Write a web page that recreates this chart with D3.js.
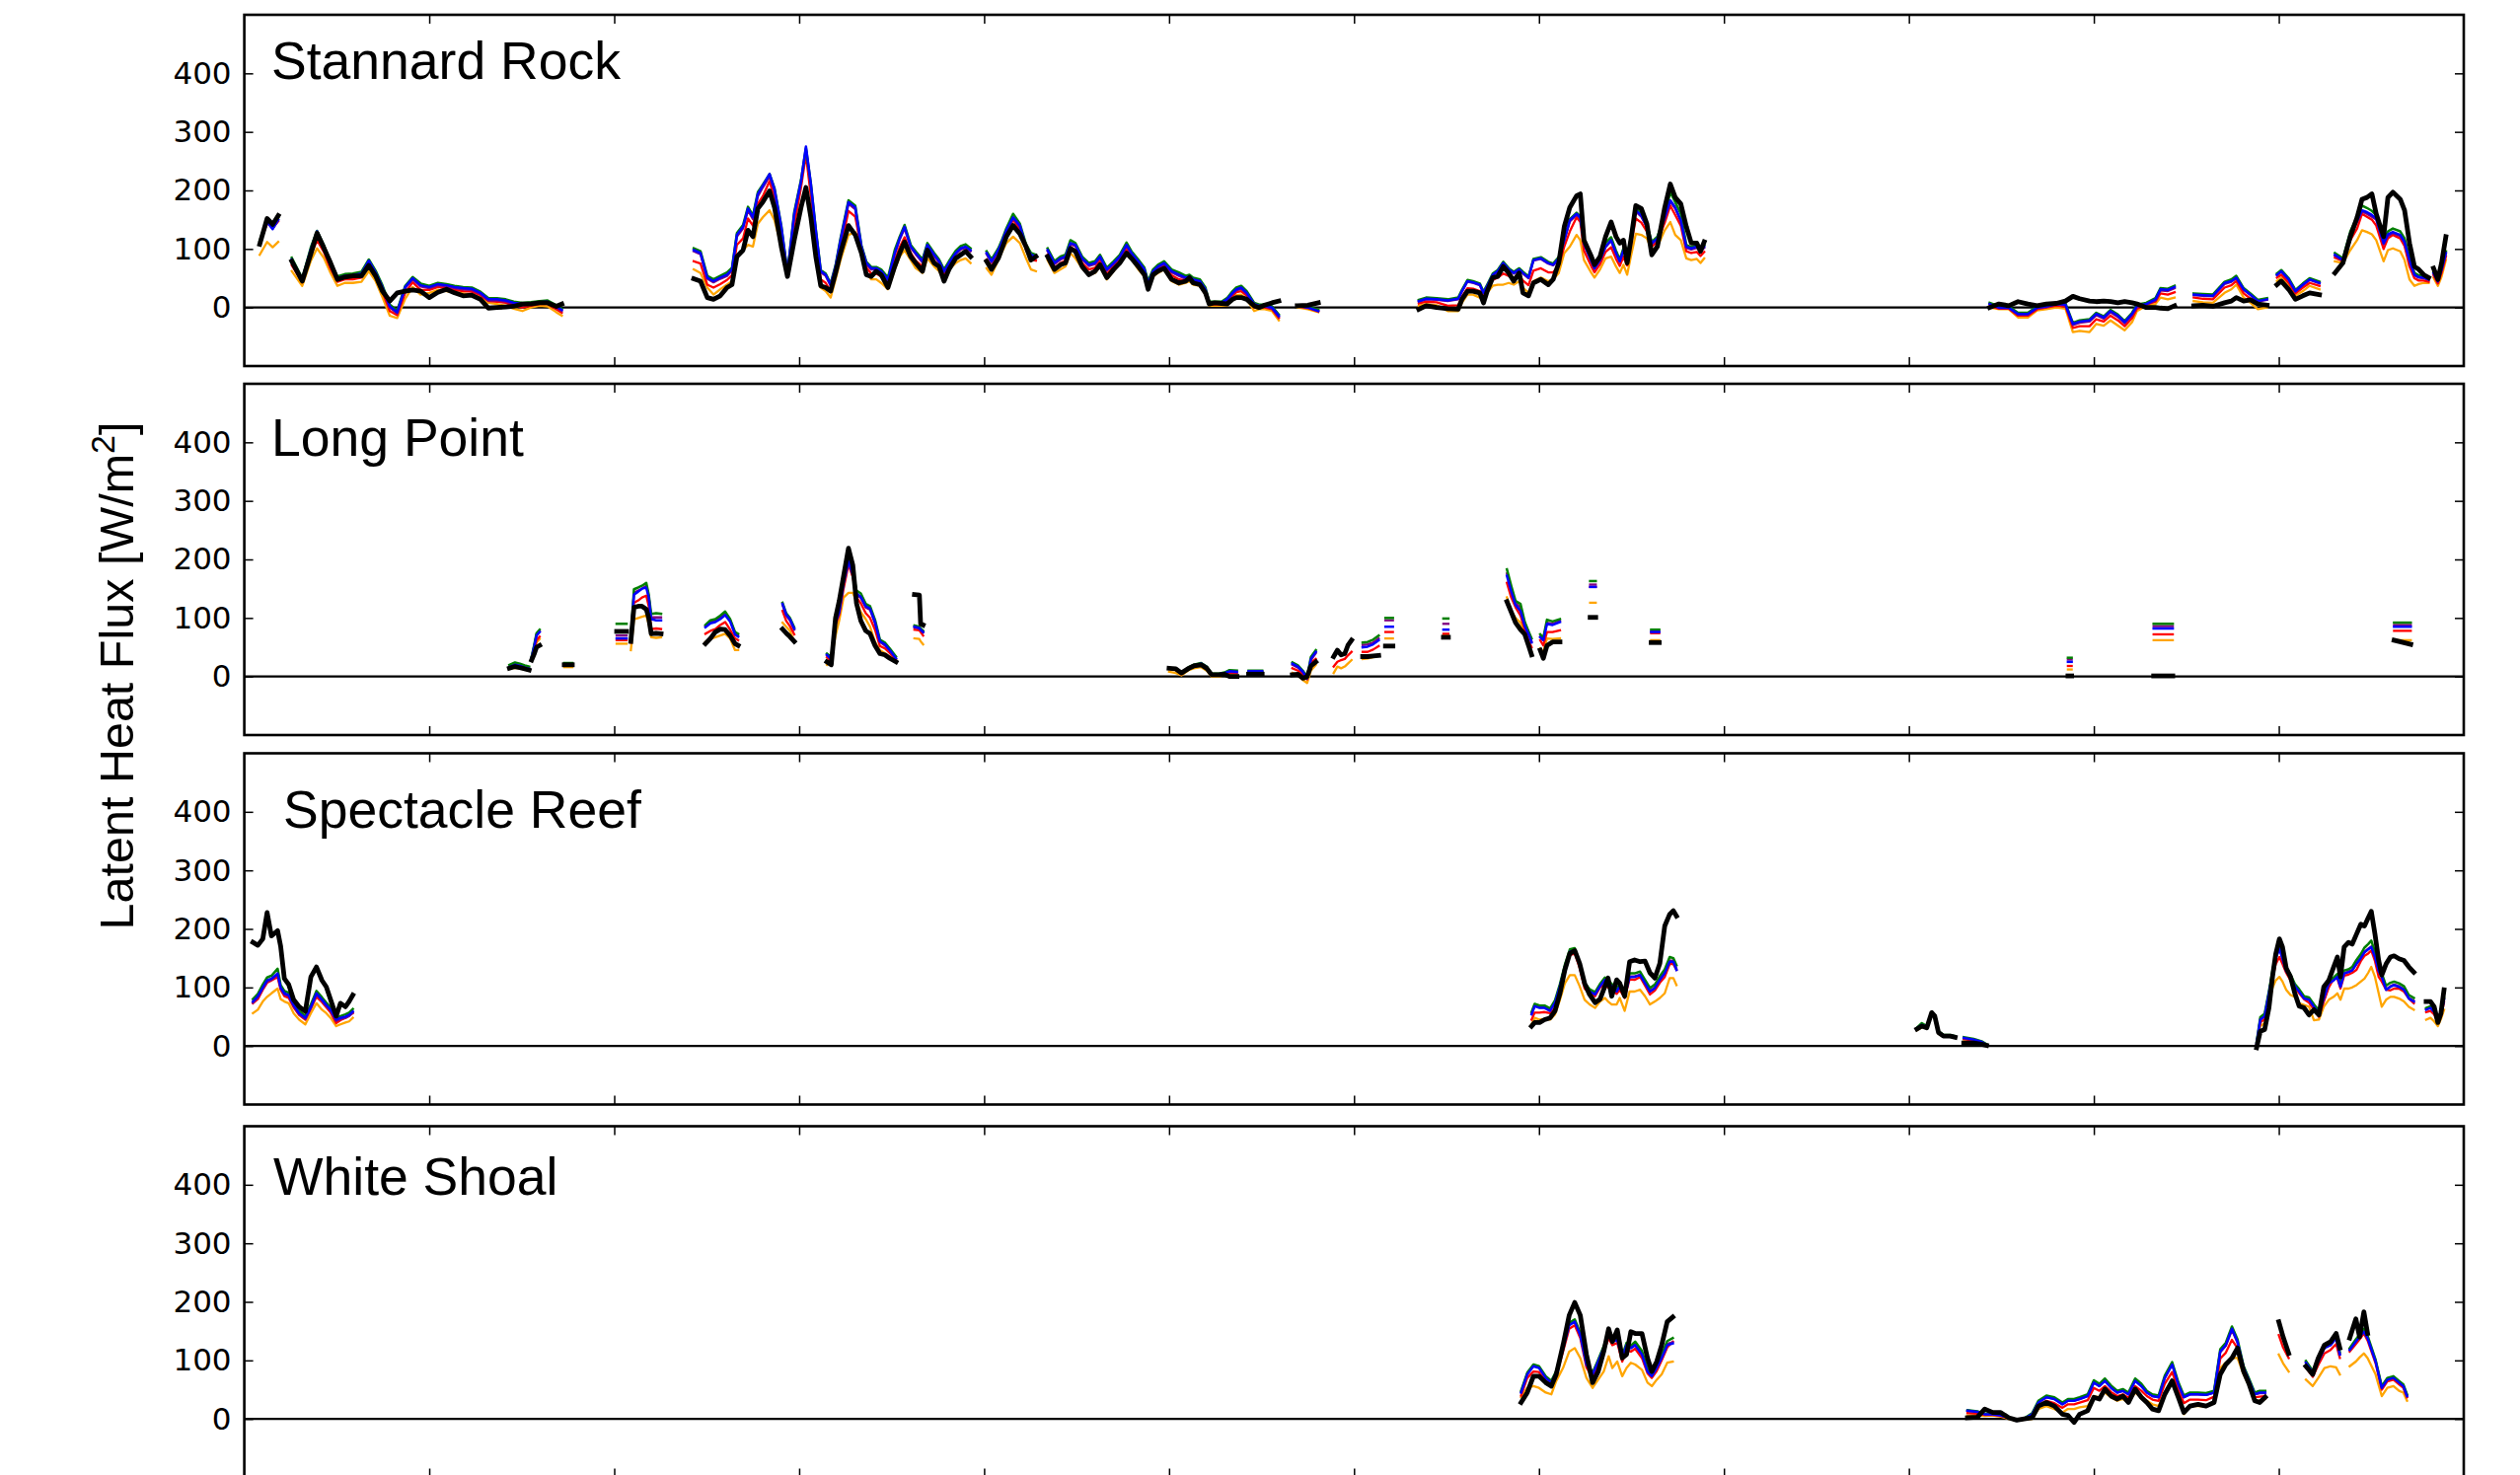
<!DOCTYPE html>
<html>
<head>
<meta charset="utf-8">
<script src="https://cdn.jsdelivr.net/npm/d3@7"></script>
<style>
  body { margin: 0; background: #fff; }
</style>
</head>
<body>
<svg id="chart" width="2554" height="1495"></svg>
<script>
// ---------------------------------------------------------------
// Latent heat flux at four Great Lakes lighthouse stations.
// x = day of the year (0-360), y = flux in W/m^2.
// Each station is stored as a list of record segments (gaps between
// segments are missing data). Six estimates per station.
// ---------------------------------------------------------------

const stationNames = ["Stannard Rock", "Long Point", "Spectacle Reef", "White Shoal"];
const seriesNames  = ["orange", "red", "purple", "green", "blue", "black"];
const yTickValues  = [0, 100, 200, 300, 400];
const xTickValues  = [30, 60, 90, 120, 150, 180, 210, 240, 270, 300, 330];

// ---------------- Stannard Rock ----------------
const srDays = [
  [2.5,3.7,4.6,5.5],
  [7.7,9.4,10.8,11.8,12.9,14.0,15.1,16.3,17.6,19.0,20.2,21.3,22.4,23.6,24.8,26.1,27.3,28.6,30.0,31.4,32.8,34.1,35.5,36.9,38.3,39.6,41.0,42.4,43.7,45.1,46.5,47.9,49.2,50.6,51.5],
  [72.9,74.0,75.1,76.1,77.2,78.3,79.1,79.9,80.9,81.7,82.5,83.3,84.1,85.2,86.0,87.1,88.1,89.2,90.3,91.1,91.9,92.7,93.5,94.3,95.1,95.9,96.7,98.0,99.1,100.1,100.9,101.7,102.5,103.3,104.4,105.5,106.3,107.1,108.1,108.9,110.0,110.8,111.9,112.7,113.5,114.3,115.4,116.2,117.0,117.8],
  [120.4,121.2,122.3,122.8,123.6,124.7,125.8,126.8,127.6,128.4],
  [130.3,131.4,132.4,133.2,134.0,134.8,135.9,137.0,138.0,138.8,139.9,141.0,142.0,143.1,143.9,145.0,146.0,146.6,147.4,148.2,149.2,150.4,151.6,152.7,153.3,153.9,155.0,155.9,156.5,157.4,158.5,159.4,160.3,160.9,161.7,162.6,163.8,164.6,165.5,166.7,167.8],
  [170.8,172.5,174.2],
  [190.5,191.7,193.4,195.2,196.9,197.5,198.4,199.3,200.4,201.0,201.6,202.5,203.3,204.2,205.1,205.9,206.8,207.4,208.3,209.1,210.3,211.5,212.3,213.2,214.1,215.0,216.1,216.7,217.3,218.5,219.0,219.9,220.8,221.7,222.5,223.1,223.7,224.3,224.9,225.7,226.6,227.5,228.3,229.2,230.4,231.3,232.1,233.0,233.9,234.7,235.6,236.2,236.8],
  [283.1,284.6,286.2,287.7,289.3,290.8,292.3,293.9,295.4,296.6,297.7,299.3,300.4,301.6,302.7,303.9,305.0,306.2,307.0,308.5,310.0,310.8,312.0,313.1],
  [316.2,317.7,319.3,321.2,322.3,323.1,324.3,325.4,326.6,328.1],
  [329.7,330.4,331.6,332.7,333.9,335.0,336.6],
  [339.1,340.4,341.6,342.7,343.5,344.3,345.1,345.8,347.0,347.7,348.5,349.7,350.4,351.2,352.0,352.7,353.5,354.3],
  [355.1,355.8,356.4,357.1]
];
const srBlack = [
  [108,152,142,157],
  [79,45,92,127,102,76,48,52,54,54,72,54,28,11,25,28,30,28,17,26,31,25,20,21,14,-1,0,1,2,6,6,8,8,2,6],
  [49,45,17,14,20,34,39,87,98,132,121,169,180,199,171,104,53,115,171,205,154,87,37,34,28,59,93,140,124,93,56,53,62,56,34,70,93,112,87,76,62,98,76,70,45,65,84,90,96,87],
  [79,65,84,98,121,140,126,104,81,87],
  [87,65,73,76,101,96,70,56,62,73,51,65,76,93,84,70,56,31,56,62,67,48,42,45,51,42,39,25,6,8,7,6,14,17,17,14,3,0,4,8,11],
  [3,4,8],
  [-3,3,0,-2,-3,14,28,28,25,8,28,51,53,70,59,45,59,25,20,42,48,39,48,76,138,171,191,194,115,87,73,87,121,146,121,110,115,76,115,174,169,143,90,104,171,211,188,177,138,110,110,96,112],
  [0,6,3,10,6,3,6,7,11,19,15,11,10,11,10,8,10,8,6,0,0,-1,-2,3],
  [3,4,2,8,11,17,11,13,6,4],
  [39,45,31,14,20,25,22],
  [59,76,121,154,185,188,194,160,121,188,197,185,166,110,70,65,56,51],
  [67,48,76,121]
];
const srBlue = [
  [110,146,134,150],
  [82,48,100,130,105,72,50,54,55,58,80,60,35,2,-8,35,50,38,35,40,38,35,33,32,25,14,14,12,8,6,7,9,10,2,-4],
  [98,93,51,45,51,56,65,124,138,169,154,194,208,228,202,138,59,160,216,275,211,132,62,56,39,70,115,180,171,104,76,67,67,62,48,93,118,138,104,93,79,107,90,79,62,76,93,101,104,98],
  [93,79,98,110,132,154,140,104,90,87],
  [98,76,84,87,110,107,84,73,76,87,65,76,87,107,93,79,65,42,62,70,76,62,56,51,53,48,45,31,8,8,8,14,25,31,34,25,6,3,3,0,-14],
  [3,0,-6],
  [11,15,14,12,15,28,45,43,39,25,37,56,62,76,65,59,65,59,51,81,84,76,73,84,115,149,160,154,110,79,67,81,104,115,93,79,98,84,118,166,157,138,110,118,154,183,171,149,104,101,104,98,104],
  [6,0,0,-11,-11,0,2,6,5,-28,-24,-22,-11,-17,-6,-14,-25,-11,3,6,14,31,30,35],
  [22,21,20,42,45,51,31,22,11,14],
  [56,62,48,28,39,48,42],
  [90,81,126,149,166,163,158,152,110,125,129,124,112,81,56,52,51,48],
  [59,45,65,93]
];
const srGreen = [
  [114,150,139,153],
  [85,50,103,131,107,75,53,57,58,61,82,63,38,5,-5,37,52,41,37,42,40,37,35,34,27,16,16,14,10,8,9,11,12,4,-2],
  [101,96,54,48,54,60,68,127,141,172,157,197,210,228,204,140,60,163,218,272,212,134,64,58,41,72,118,183,174,106,78,69,69,65,51,98,121,141,107,96,82,110,93,82,65,79,97,105,108,101],
  [96,82,101,113,135,160,143,108,93,90],
  [101,79,87,90,115,110,87,76,79,90,68,79,90,111,96,82,68,45,65,73,79,65,60,54,56,51,48,34,10,10,10,16,28,34,37,28,8,5,5,2,-12],
  [4,2,-4],
  [13,17,16,14,17,30,47,45,41,27,39,58,64,78,67,61,67,61,53,83,86,78,75,86,117,151,162,156,113,82,70,84,110,120,97,82,101,87,121,170,160,141,112,121,157,197,180,160,107,103,106,100,106],
  [8,2,2,-9,-9,2,4,8,7,-26,-22,-20,-9,-15,-4,-12,-23,-9,5,8,16,33,32,37],
  [24,23,22,44,48,54,33,24,13,16],
  [58,64,50,30,41,50,44],
  [93,84,130,155,174,170,165,158,114,130,135,130,118,86,59,55,54,50],
  [61,47,67,96]
];
const srPurple = [
  [111,147,135,149],
  [81,47,98,128,103,71,49,53,54,57,78,59,33,0,-10,33,48,36,33,38,36,33,31,30,23,12,12,10,6,4,5,7,8,0,-6],
  [96,91,49,43,49,54,63,121,135,166,151,190,205,224,198,135,57,157,212,270,207,129,60,54,37,68,112,177,168,102,74,65,65,60,46,91,116,135,102,91,77,105,88,77,60,74,91,99,102,96],
  [91,77,96,108,130,152,138,102,88,85],
  [96,74,82,85,108,105,82,71,74,85,63,74,85,105,91,77,63,40,60,68,74,60,54,49,51,46,43,29,7,7,7,12,23,29,32,23,4,2,2,-2,-16],
  [3,0,-6],
  [10,14,13,11,14,27,44,42,38,24,36,55,61,75,64,58,64,58,50,80,83,75,72,83,114,147,158,152,108,78,66,80,103,114,92,78,97,83,117,164,155,137,108,117,152,181,169,147,102,99,102,96,102],
  [5,-1,-1,-12,-12,-1,1,5,4,-30,-26,-24,-13,-19,-8,-16,-27,-13,1,5,12,29,28,33],
  [21,20,19,40,44,50,30,21,10,13],
  [55,61,47,27,38,47,41],
  [88,80,124,146,164,160,155,150,108,122,127,122,110,79,55,51,50,47],
  [58,44,64,92]
];
const srRed = [
  [108,144,136,147],
  [72,43,90,115,95,66,44,48,48,51,71,52,27,-6,-13,25,43,30,30,35,33,30,28,27,21,11,10,8,3,0,3,6,6,-3,-9],
  [79,75,39,34,40,47,55,107,118,152,140,177,190,216,185,126,56,140,205,261,190,115,48,42,28,59,100,165,155,100,68,58,58,53,40,80,103,120,93,80,70,96,80,70,55,70,85,92,95,88],
  [82,70,90,103,125,150,133,98,82,80],
  [90,68,76,80,103,98,76,65,68,80,57,70,82,100,88,72,60,38,58,65,71,55,48,46,49,44,41,27,5,5,5,8,20,26,28,20,0,0,0,-3,-18],
  [2,-1,-7],
  [7,10,9,3,4,18,33,32,28,18,31,47,51,58,54,49,55,46,38,63,67,60,60,71,104,130,154,146,97,70,60,74,95,103,83,71,87,72,105,152,145,130,104,112,145,174,158,140,96,93,95,88,95],
  [3,-2,-2,-14,-14,-3,0,3,2,-35,-32,-32,-20,-24,-14,-22,-32,-18,-2,5,10,24,22,26],
  [17,15,14,34,38,45,24,15,5,6],
  [51,56,42,24,34,42,37],
  [85,79,115,135,160,155,150,140,100,118,124,118,105,70,50,46,46,44],
  [55,41,59,87]
];
const srOrange = [
  [90,112,103,112],
  [62,37,80,101,85,59,37,42,42,44,62,45,18,-14,-18,15,35,22,25,30,28,26,24,22,17,8,6,3,-2,-6,0,3,2,-8,-14],
  [65,59,34,22,31,39,45,90,98,107,104,143,154,166,149,104,59,118,171,197,152,93,34,28,17,48,81,124,129,104,59,48,48,42,31,65,87,98,81,67,59,84,70,62,48,65,76,81,84,76],
  [67,56,81,93,110,121,110,84,65,62],
  [81,59,65,70,93,84,67,56,59,70,48,62,76,93,84,65,53,34,53,59,65,45,39,42,45,39,37,22,3,3,3,3,14,21,22,14,-6,-3,-3,-6,-22],
  [0,-3,-8],
  [3,6,4,-6,-6,8,22,22,17,12,25,37,39,39,42,39,45,34,25,45,51,45,48,59,93,104,124,115,81,59,51,65,84,87,70,59,73,56,87,126,124,118,98,104,132,146,124,115,84,81,83,76,84],
  [0,-3,-3,-17,-17,-5,-3,0,-2,-42,-40,-42,-28,-31,-22,-31,-39,-25,-6,3,6,17,14,17],
  [11,9,8,25,31,39,17,8,-3,0],
  [45,51,37,20,28,37,31],
  [79,76,98,115,132,129,125,115,79,98,101,96,81,48,37,40,42,42],
  [51,37,53,81]
];

// ---------------- Long Point ----------------
const lpDays = [
  [43.0,43.9,44.7,45.5,46.2],
  [46.6,47.0,47.4,47.9],
  [51.9,53.2],
  [60.4,62.0],
  [62.7,63.2,63.9,64.5,65.2,65.6,66.0,66.8,67.6],
  [74.8,75.6,76.4,77.2,78.0,78.8,79.6,80.1],
  [87.3,87.9,88.5,89.2],
  [94.5,95.2,95.9,96.5,97.2,98.0,98.7,99.3,100.0,100.8,101.5,102.3,103.1,103.9,104.7,105.7],
  [108.7,109.5,109.7,110.1],
  [150.0,151.1,152.0,153.2,154.0,155.2,156.1,156.9,158.1,159.0,159.8,161.0],
  [162.9,165.1],
  [170.0,170.9,171.7,172.4,173.0,173.8],
  [176.7,177.3,177.9,178.5,179.0,179.6],
  [181.4,182.2,183.1,184.0],
  [185.1,186.3],
  [194.5,195.3],
  [204.8,205.5,206.2,207.0,207.7,208.4,208.8],
  [210.2,210.7,211.3,212.2,213.4],
  [218.3,219.2],
  [228.2,229.5],
  [295.8,296.4],
  [309.7,312.8],
  [348.7,351.4]
];
const lpBlack = [
  [14,17,15,13,11],[28,38,50,53],[20,20],[77,77],
  [60,118,120,120,115,100,73,74,73],
  [56,65,76,81,80,70,56,53],
  [81,74,68,60],
  [25,20,100,129,171,219,190,125,95,78,73,53,39,37,31,25],
  [140,139,90,88],
  [14,13,6,14,18,20,14,3,3,4,0,0],
  [4,4],
  [3,4,-3,0,18,25],
  [34,45,37,39,53,62],
  [34,34,35,36],
  [52,52],[67,67],
  [128,110,92,80,72,50,37],
  [45,31,53,59,59],
  [101,101],[58,58],[1,1],[1,1],[62,55]
];
const lpBlue = [
  [16,20,18,15,13],[32,50,70,76],[21,21],[65,65],
  [62,140,145,150,152,135,98,96,96],
  [84,91,93,98,105,94,72,68],
  [124,106,98,82],
  [37,30,93,110,160,197,175,142,136,120,116,93,60,55,45,31],
  [85,83,80,76],
  [14,12,5,15,19,22,16,4,4,6,9,8],
  [9,9],
  [22,17,8,-3,30,42],
  [33,44,36,38,52,60],
  [50,51,55,62],
  [85,85],[80,80],
  [172,145,122,112,86,70,58],
  [67,62,90,88,93],
  [153,153],[76,76],[25,25],[82,82],[85,85]
];
const lpGreen = [
  [20,24,22,19,17],[34,53,74,80],[23,23],[90,90],
  [65,149,152,155,160,140,107,108,107],
  [88,96,98,104,111,98,76,73],
  [126,108,100,84],
  [39,33,96,114,164,200,179,147,142,124,120,97,63,58,48,34],
  [87,85,82,78],
  [15,13,6,16,20,23,17,5,5,7,11,10],
  [10,10],
  [24,19,10,-1,33,45],
  [34,45,37,39,53,61],
  [58,59,63,70],
  [100,100],[99,99],
  [183,155,129,124,93,75,65],
  [72,66,97,94,98],
  [163,163],[80,80],[32,32],[90,90],[92,92]
];
const lpPurple = [
  [17,21,19,16,14],[33,51,72,77],[22,22],[70,70],
  [63,143,147,150,155,137,101,101,101],
  [86,93,96,101,108,96,74,70],
  [122,104,96,80],
  [36,29,91,109,158,195,173,140,134,118,114,91,59,53,44,30],
  [84,82,79,75],
  [14,12,5,15,19,21,15,4,4,6,8,7],
  [8,8],
  [20,15,7,-3,28,40],
  [33,44,36,38,52,60],
  [54,55,58,65],
  [96,96],[90,90],
  [176,150,125,118,90,72,60],
  [68,63,92,90,95],
  [157,157],[77,77],[29,29],[86,86],[88,88]
];
const lpRed = [
  [15,18,16,14,12],[30,45,62,68],[19,19],[62,62],
  [58,126,130,135,138,120,81,82,81],
  [73,78,81,88,93,80,65,62],
  [112,95,86,72],
  [33,26,88,106,150,191,170,135,125,108,100,80,52,48,40,28],
  [80,79,76,70],
  [13,11,4,14,18,20,14,3,3,5,7,6],
  [7,7],
  [14,10,3,-5,24,30],
  [17,25,28,30,36,42],
  [42,42,46,52],
  [76,76],[73,73],
  [160,135,118,104,80,59,50],
  [62,53,76,76,79],
  [153,153],[74,74],[18,18],[72,72],[78,78]
];
const lpOrange = [
  [13,15,14,12,10],[30,44,58,64],[16,16],[56,56],
  [45,98,100,102,104,90,67,66,67],
  [59,64,67,70,73,65,45,45],
  [92,85,78,60],
  [20,28,70,96,135,143,143,128,110,98,85,59,45,40,33,28],
  [65,64,60,55],
  [8,6,2,11,14,16,10,0,0,2,4,3],
  [5,5],
  [6,2,-6,-11,10,20],
  [6,17,14,17,22,28],
  [30,31,33,36],
  [65,65],[70,70],
  [135,112,100,92,74,53,42],
  [48,42,65,64,65],
  [126,126],[62,62],[12,12],[62,62],[62,62]
];

// ---------------- Spectacle Reef ----------------
const spDays = [
  [1.4,2.2,3.0,3.7,4.4,5.4,5.9,6.5,7.2,8.0,8.9,9.9,10.8,11.7,12.6,13.3,14.0,14.9,15.6,16.4,17.0,17.6],
  [208.8,209.3,210.1,210.9,211.8,212.6,213.4,214.2,215.0,215.8,216.6,217.4,218.2,219.1,219.9,220.7,221.2,221.8,222.6,223.1,223.9,224.7,225.5,226.4,227.2,228.0,228.8,229.6,230.4,231.2,231.8,232.3],
  [271.3,272.1,272.9,273.7,274.2,274.8,275.6,276.7,277.5],
  [278.9,280.5,281.8,282.6],
  [326.4,327.0,327.7,328.4,329.0,329.5,330.1,330.6,331.2,331.9,332.6,333.3,334.1,334.9,335.7,336.5,337.3,338.1,338.9,339.5,340.0,340.6,341.3,341.9,342.6,343.3,343.9,344.5,345.0,345.6,346.2,346.7,347.4,348.1,348.7,349.5,350.3,351.1,351.9],
  [353.9,354.6,355.2,355.8,356.3,356.8]
];
const spBlack = [
  [177,172,183,228,188,197,170,115,105,79,67,59,118,135,112,101,79,51,73,67,76,87],
  [34,40,40,45,48,60,90,130,158,163,141,107,88,74,80,102,116,85,113,107,85,144,147,144,145,125,116,141,205,225,231,222],
  [29,34,31,57,51,23,17,17,15],
  [5,5,3,1],
  [-3,25,28,65,120,157,183,169,133,118,90,68,65,53,62,53,101,112,135,152,118,169,177,174,191,208,205,219,230,191,146,121,140,152,154,149,146,135,126],
  [76,76,67,40,56,96]
];
const spBlue = [
  [76,85,100,112,115,124,100,90,87,70,56,48,67,90,79,70,62,45,48,50,53,59],
  [54,68,65,65,60,74,102,135,161,163,138,104,93,88,102,113,108,102,93,102,85,118,118,121,107,93,99,113,124,144,144,130],
  [30,36,33,57,50,24,18,18,16],
  [14,11,7,2],
  [5,45,51,90,125,150,166,149,128,118,102,93,81,79,67,56,81,107,112,118,101,124,126,129,140,150,160,165,169,152,128,118,96,101,104,101,96,81,76],
  [62,65,58,45,53,79]
];
const spGreen = [
  [80,89,105,117,120,132,104,94,91,74,60,51,71,94,83,74,66,48,51,54,57,63],
  [58,72,69,69,64,78,106,139,165,167,142,108,97,92,106,117,112,106,97,106,89,124,124,127,113,99,105,119,131,152,150,138],
  [31,39,34,58,51,25,19,19,17],
  [15,12,8,3],
  [7,49,55,94,130,156,172,154,133,122,106,97,85,83,71,60,85,111,117,123,106,129,131,135,147,157,168,174,180,160,135,124,103,108,110,107,102,87,82],
  [65,68,61,48,56,82]
];
const spPurple = [
  [74,83,98,110,113,122,98,88,85,68,54,46,65,88,77,68,60,43,46,48,51,57],
  [55,69,66,66,61,75,103,136,162,164,139,105,94,89,103,114,109,103,94,103,86,119,119,122,108,94,100,114,126,146,146,132],
  [30,36,33,57,50,24,18,18,16],
  [13,10,6,2],
  [5,46,52,91,126,151,167,150,129,119,103,94,82,80,68,57,82,108,113,119,102,125,127,130,141,151,161,166,170,153,129,119,97,102,105,102,97,82,77],
  [63,66,59,46,54,80]
];
const spRed = [
  [73,80,96,108,112,118,96,85,82,66,53,45,64,84,75,66,57,39,44,48,52,56],
  [45,57,57,58,56,65,95,130,155,158,133,98,90,85,100,105,100,98,89,96,82,114,113,118,103,88,95,108,118,140,140,130],
  [29,35,32,56,50,23,17,17,15],
  [12,9,5,1],
  [3,40,46,84,115,140,152,140,125,112,101,90,80,74,62,50,76,100,115,115,98,120,122,125,130,145,154,158,163,145,118,110,96,95,98,98,93,81,73],
  [58,60,54,40,50,75]
];
const spOrange = [
  [56,62,76,84,90,98,80,76,73,56,45,37,56,73,62,56,48,34,37,40,42,48],
  [37,48,45,46,45,54,79,107,121,121,102,79,71,65,76,82,76,71,71,82,60,93,93,96,85,71,76,82,90,116,116,104],
  [27,32,30,55,49,21,16,16,14],
  [8,6,4,1],
  [0,34,39,73,100,112,118,110,96,87,84,73,70,67,44,45,67,79,84,90,79,98,98,100,104,110,115,125,135,118,90,67,79,84,84,81,76,67,62],
  [45,48,42,34,46,62]
];

// ---------------- White Shoal ----------------
const wsDays = [
  [207.1,208.1,209.1,210.0,211.1,212.0,212.8,213.9,214.9,215.8,216.7,217.7,218.7,219.6,220.5,221.3,221.9,222.7,223.5,224.2,224.9,225.6,226.7,227.6,228.3,229.1,229.9,230.8,231.7],
  [279.5,281.1,282.3,283.6,284.9,286.2,287.5,288.7,290.0,291.0,292.3,293.6,294.9,295.8,296.8,297.7,299.0,300.0,300.9,301.8,302.8,303.8,304.7,305.6,306.7,307.7,308.6,309.5,310.5,311.5,312.7,313.7,314.6,315.6,316.9,318.2,319.5,320.5,321.4,322.4,323.3,324.3,325.2,326.1,326.9,327.8],
  [330.0,330.7,331.6],
  [334.4,335.5,336.4,337.4,338.4,339.3,339.9],
  [341.5,342.5,343.1,343.8,344.4,345.7,346.7,347.6,348.6,349.5,350.2,350.8]
];
const wsBlack = [
  [28,45,73,73,62,56,76,126,177,199,177,110,62,81,115,154,132,152,104,110,149,146,146,104,81,98,126,166,174],
  [2,3,17,11,11,2,-2,0,2,22,28,22,8,6,-6,8,14,37,34,51,39,34,39,28,51,37,28,17,14,42,65,37,11,22,25,22,28,76,93,104,121,81,59,31,28,37],
  [166,140,112],
  [90,76,104,126,132,146,121],
  [138,171,140,183,146,null,null,null,null,null,null,null]
];
const wsBlue = [
  [45,76,90,87,70,62,79,121,160,166,143,93,76,98,121,143,132,135,104,126,121,126,110,81,73,87,104,126,129],
  [14,12,8,8,6,2,-3,0,8,28,37,34,25,31,31,34,39,62,56,65,53,45,48,42,65,56,45,39,37,70,93,59,37,42,42,41,45,115,126,154,132,87,65,42,45,45],
  [164,138,110],
  [96,79,98,121,126,138,110],
  [118,132,140,149,138,98,53,67,70,62,56,39]
];
const wsGreen = [
  [48,79,93,90,73,65,82,124,164,170,147,96,79,101,124,147,136,139,108,130,125,132,116,86,77,91,110,133,138],
  [15,13,9,9,7,3,-2,1,10,31,40,37,28,34,34,37,42,66,60,69,57,48,51,45,69,60,48,42,40,74,97,63,40,45,45,44,48,119,130,158,136,90,68,45,48,48],
  [165,139,111],
  [99,82,101,124,130,142,114],
  [121,136,144,154,142,101,56,70,73,65,59,42]
];
const wsPurple = [
  [46,77,91,88,71,63,80,122,161,167,144,94,77,99,122,144,133,136,105,127,122,128,112,83,74,88,106,128,131],
  [14,12,8,8,6,2,-3,0,8,28,37,34,25,31,31,34,39,62,56,65,53,45,48,42,65,56,45,39,37,70,93,59,37,42,42,41,45,114,125,152,130,86,64,42,44,44],
  [164,138,110],
  [97,80,99,122,127,139,111],
  [119,133,141,150,139,99,54,68,71,63,57,40]
];
const wsRed = [
  [40,70,81,80,65,58,74,115,154,160,138,88,70,92,115,138,126,130,98,118,115,120,104,78,70,82,100,122,132],
  [10,9,7,7,5,1,-3,0,5,23,31,27,19,25,25,28,32,53,48,56,46,39,42,36,56,48,39,33,31,60,80,50,27,33,33,32,38,103,113,135,121,82,61,37,38,39],
  [143,122,104],
  [88,72,92,112,118,128,104],
  [115,128,136,146,134,95,50,64,67,59,53,37]
];
const wsOrange = [
  [37,53,56,53,45,42,65,87,115,121,104,70,53,67,81,107,87,98,73,87,96,93,84,62,56,67,76,96,98],
  [6,6,5,6,4,0,-3,-1,0,17,22,17,11,17,17,20,22,39,37,45,37,31,34,28,45,37,31,25,22,45,62,37,8,22,22,21,28,87,96,104,104,76,56,31,31,34],
  [110,95,81],
  [67,56,70,87,90,88,76],
  [90,98,105,112,104,76,39,53,56,48,45,31]
];

// ---------------------------------------------------------------
// Assemble per-station tables for drawing
// ---------------------------------------------------------------
const stationData = [
  { days: srDays, series: { orange: srOrange, red: srRed, purple: srPurple, green: srGreen, blue: srBlue, black: srBlack } },
  { days: lpDays, series: { orange: lpOrange, red: lpRed, purple: lpPurple, green: lpGreen, blue: lpBlue, black: lpBlack } },
  { days: spDays, series: { orange: spOrange, red: spRed, purple: spPurple, green: spGreen, blue: spBlue, black: spBlack } },
  { days: wsDays, series: { orange: wsOrange, red: wsRed, purple: wsPurple, green: wsGreen, blue: wsBlue, black: wsBlack } }
];

const seriesStyle = {
  orange: { color: "#ffa500", width: 2.3 },
  red:    { color: "#ff0000", width: 2.3 },
  purple: { color: "#800080", width: 2.3 },
  green:  { color: "#008000", width: 2.5 },
  blue:   { color: "#0000ff", width: 2.5 },
  black:  { color: "#000000", width: 4.8 }
};

// ---------------------------------------------------------------
// Layout
// ---------------------------------------------------------------
const plotLeft = 247.6, plotRight = 2497;
const panelTops = [15, 389, 763.5, 1141.5];
const panelHeight = 356;
const titleOffsets = [ {dx: 275, dy: 65}, {dx: 275, dy: 72.5}, {dx: 287, dy: 75}, {dx: 277, dy: 69.5} ];

const svg = d3.select("#chart");
svg.append("rect").attr("width", 2554).attr("height", 1495).attr("fill", "#fff");

const x = d3.scaleLinear().domain([0, 360]).range([plotLeft, plotRight]);

stationData.forEach((st, k) => {
  const top = panelTops[k];
  const y = d3.scaleLinear().domain([-100, 500]).range([top + panelHeight, top]);

  const g = svg.append("g").attr("class", "panel");

  const clipId = "clip" + k;
  svg.append("clipPath").attr("id", clipId)
    .append("rect").attr("x", plotLeft).attr("y", top)
    .attr("width", plotRight - plotLeft).attr("height", panelHeight);

  // zero line
  g.append("line")
    .attr("x1", plotLeft).attr("x2", plotRight)
    .attr("y1", y(0)).attr("y2", y(0))
    .attr("stroke", "#000").attr("stroke-width", 2.3);

  // data lines
  const lines = g.append("g").attr("clip-path", `url(#${clipId})`);
  const line = d3.line()
    .defined(p => p.v != null)
    .x(p => x(p.d))
    .y(p => y(p.v));

  seriesNames.forEach(name => {
    const segs = st.series[name];
    const sty = seriesStyle[name];
    st.days.forEach((dayArr, si) => {
      const vals = segs[si] || [];
      const n = Math.min(dayArr.length, vals.length);
      const pts = [];
      for (let i = 0; i < n; i++) pts.push({ d: dayArr[i], v: vals[i] });
      lines.append("path")
        .attr("d", line(pts))
        .attr("fill", "none")
        .attr("stroke", sty.color)
        .attr("stroke-width", sty.width)
        .attr("stroke-linejoin", "round")
        .attr("stroke-linecap", "square");
    });
  });

  // axes: inward ticks on all four sides
  const axL = d3.axisLeft(y).tickValues(yTickValues).tickSizeInner(-9).tickSizeOuter(0).tickPadding(13);
  const axR = d3.axisRight(y).tickValues(yTickValues).tickSizeInner(-9).tickSizeOuter(0).tickFormat("");
  const axT = d3.axisTop(x).tickValues(xTickValues).tickSizeInner(-9).tickSizeOuter(0).tickFormat("");
  const axB = d3.axisBottom(x).tickValues(xTickValues).tickSizeInner(-9).tickSizeOuter(0).tickFormat("");

  const styleAxis = sel => {
    sel.select(".domain").remove();
    sel.selectAll(".tick line").attr("stroke", "#000").attr("stroke-width", 1.5);
  };

  g.append("g").attr("transform", `translate(${plotLeft},0)`).call(axL).call(styleAxis)
    .selectAll("text")
    .attr("font-family", "'DejaVu Sans', sans-serif")
    .attr("font-size", 31)
    .attr("fill", "#000");
  g.append("g").attr("transform", `translate(${plotRight},0)`).call(axR).call(styleAxis);
  g.append("g").attr("transform", `translate(0,${top})`).call(axT).call(styleAxis);
  g.append("g").attr("transform", `translate(0,${top + panelHeight})`).call(axB).call(styleAxis);

  // frame
  g.append("rect")
    .attr("x", plotLeft).attr("y", top)
    .attr("width", plotRight - plotLeft).attr("height", panelHeight)
    .attr("fill", "none").attr("stroke", "#000").attr("stroke-width", 2.6);

  // station title
  g.append("text")
    .attr("x", titleOffsets[k].dx)
    .attr("y", top + titleOffsets[k].dy)
    .attr("font-family", "'Liberation Sans', Arial, sans-serif")
    .attr("font-size", 53.5)
    .attr("fill", "#000")
    .text(stationNames[k]);
});

// shared y-axis label
const ylab = svg.append("text")
  .attr("transform", "translate(135,685) rotate(-90)")
  .attr("text-anchor", "middle")
  .attr("font-family", "'Liberation Sans', Arial, sans-serif")
  .attr("font-size", 48.5)
  .attr("fill", "#000");
ylab.append("tspan").text("Latent Heat Flux [W/m");
ylab.append("tspan").attr("font-size", 34).attr("dy", -19).text("2");
ylab.append("tspan").attr("dy", 19).text("]");
</script>
</body>
</html>
